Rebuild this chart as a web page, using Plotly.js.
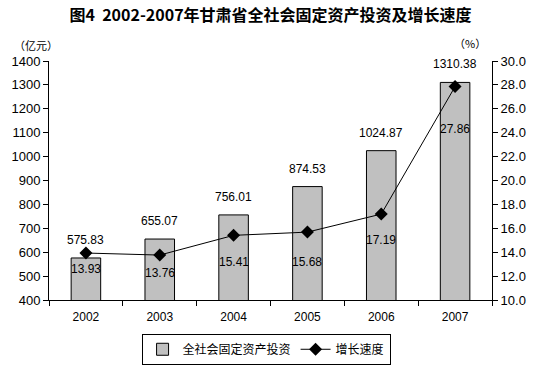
<!DOCTYPE html>
<html><head><meta charset="utf-8">
<script src="https://cdn.plot.ly/plotly-3.0.1.min.js"></script>
<style>body{margin:0;background:#fff}#c{width:541px;height:368px}</style>
</head><body><div id="c"></div>
<script>
const years = ['2002','2003','2004','2005','2006','2007'];
const investment = [575.83, 655.07, 756.01, 874.53, 1024.87, 1310.38];
const growth = [13.93, 13.76, 15.41, 15.68, 17.19, 27.86];
const growthLabelShift = [-16, -18, -27, -30, -26, -42];

const F = 'Liberation Sans, Arial, sans-serif';
const CJK = 'Noto Sans CJK SC, sans-serif';

const traces = [
  {type:'bar', x:years, y:investment, name:'全社会固定资产投资', width:0.4,
   marker:{color:'#C0C0C0', line:{color:'#000', width:1}}, hoverinfo:'none'},
  {type:'scatter', mode:'lines+markers', x:years, y:growth, yaxis:'y2', name:'增长速度',
   line:{color:'#000', width:1}, marker:{symbol:'diamond', size:10, color:'#000'}, hoverinfo:'none'}
];

const annotations = [];
years.forEach((yr,i)=>{
  annotations.push({x:i, y:investment[i], xref:'x', yref:'y', text:investment[i].toFixed(2),
    showarrow:false, yanchor:'bottom', yshift:9, font:{family:F, size:12, color:'#000'}});
  annotations.push({x:i, y:growth[i], xref:'x', yref:'y2', text:growth[i].toFixed(2),
    showarrow:false, yanchor:'middle', yshift:growthLabelShift[i], font:{family:F, size:12, color:'#000'}});
});
annotations.push({xref:'paper', yref:'paper', x:-0.029, y:1.0, xanchor:'center', yanchor:'bottom', yshift:6,
  text:'（亿元）', showarrow:false, font:{family:CJK, size:11, color:'#000'}});
annotations.push({xref:'paper', yref:'paper', x:0.95, y:1.0, xanchor:'center', yanchor:'bottom', yshift:8,
  text:'（%）', showarrow:false, font:{family:CJK, size:11, color:'#000'}});

const layout = {
  width:541, height:368,
  margin:{l:49, r:49, t:61, b:68, autoexpand:false},
  paper_bgcolor:'#fff', plot_bgcolor:'#fff',
  title:{text:'<b>图4  2002-2007年甘肃省全社会固定资产投资及增长速度</b>', x:0.5, xanchor:'center',
    y:0.958, yanchor:'middle', font:{family:CJK, size:16, color:'#000'}},
  font:{family:F, size:12, color:'#000'},
  showlegend:true,
  legend:{orientation:'h', x:0.49, xanchor:'center', yref:'container', y:0.093, yanchor:'top',
    bordercolor:'#000', borderwidth:1, font:{family:CJK, size:12, color:'#000'},
    itemwidth:30, tracegroupgap:0},
  xaxis:{type:'category', range:[-0.5,5.5], showline:true, linecolor:'#000', linewidth:1, ticks:'outside',
    tickson:'boundaries', ticklen:5, tickcolor:'#000', showgrid:false, zeroline:false,
    ticklabelstandoff:6, tickfont:{family:F, size:12}, fixedrange:true},
  yaxis:{range:[400,1400], dtick:100, showline:true, linecolor:'#000', linewidth:1, ticks:'outside',
    ticklen:5, tickcolor:'#000', showgrid:false, zeroline:false, tickfont:{family:F, size:13}, fixedrange:true},
  yaxis2:{range:[10,30], dtick:2, tickformat:'.1f', overlaying:'y', side:'right', showline:true,
    linecolor:'#000', linewidth:1, ticks:'outside', ticklen:5, tickcolor:'#000', showgrid:false,
    zeroline:false, tickfont:{family:F, size:13}, fixedrange:true},
  annotations:annotations,
  bargap:0.6
};
Plotly.newPlot('c', traces, layout, {displayModeBar:false, staticPlot:true});
</script></body></html>
